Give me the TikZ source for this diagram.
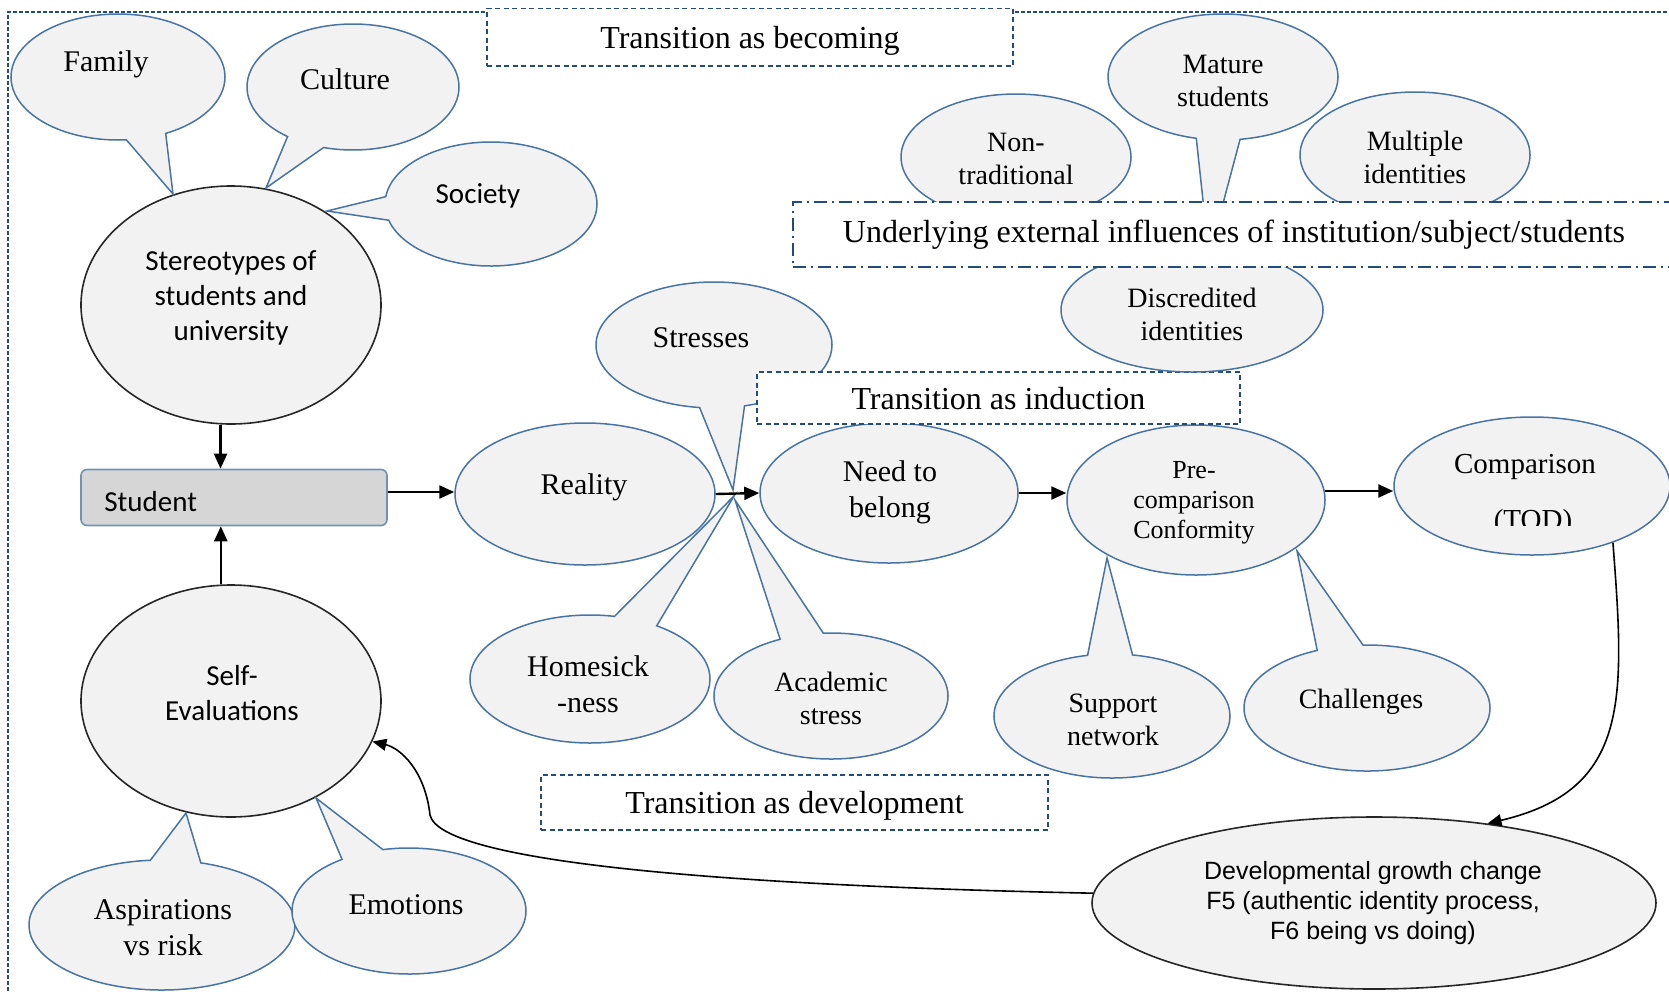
\documentclass[tikz,border=0pt]{standalone}
\usepackage{fontspec}
\setmainfont{Liberation Serif}
\newfontfamily\calib{Carlito}
\newfontfamily\arialf{Liberation Sans}
\usetikzlibrary{shapes.geometric,shapes.callouts,arrows.meta}
\definecolor{cblue}{RGB}{72,116,164}
\definecolor{cfill}{RGB}{242,242,242}
\definecolor{dblue}{RGB}{36,76,120}
\definecolor{sfill}{RGB}{214,214,214}
\definecolor{sline}{RGB}{112,146,182}
\begin{document}
\begin{tikzpicture}[x=0.5pt,y=-0.5pt,
  bubcall/.style={ellipse callout, draw=cblue, fill=cfill, line width=0.75pt, inner sep=0pt, callout pointer arc=22},
  bub/.style={ellipse, draw=cblue, fill=cfill, line width=0.75pt, inner sep=0pt},
  blk/.style={ellipse, draw=black!85, fill=cfill, line width=0.8pt, inner sep=0pt},
  txt/.style={align=center, inner sep=0pt, yshift=-1.5pt, font=\fontsize{15}{18}\selectfont},
  txts/.style={align=center, inner sep=0pt, yshift=-1.5pt, font=\fontsize{14}{16.5}\selectfont},
  sans/.style={align=center, inner sep=0pt, yshift=-1.2pt, font=\calib\fontsize{14.5}{17.5}\selectfont},
  tbox/.style={draw=dblue, fill=white, line width=0.75pt, dash pattern=on 2.5pt off 1.75pt, inner sep=0pt, text depth=0pt, font=\fontsize{16}{19}\selectfont},
  arr/.style={-{Triangle[length=7.5pt,width=6.5pt]}, line width=1.2pt, black},
  curv/.style={-{Triangle[length=7pt,width=6pt]}, line width=0.8pt, black},
]
\useasboundingbox (0,0) rectangle (1669,991);
% outer frame
\draw[dblue, line width=0.8pt, dash pattern=on 2pt off 1pt] (8,991) -- (8,12) -- (1669,12);
\node[tbox, minimum width=263pt, minimum height=28.75pt] (tbecome) at (750,37) {Transition as becoming};

% stereotypes cluster
\node[blk, minimum width=150pt, minimum height=119pt] (stereo) at (231,305) {};
\node[sans] (stereot) at (231,295) {Stereotypes of\\students and\\university};
\node[bubcall, minimum width=107pt, minimum height=63pt, callout absolute pointer={(173,194)}] (fam) at (118,77) {};
\node[txt] (famt) at (106,61) {Family};
\node[bubcall, minimum width=106pt, minimum height=63pt, callout absolute pointer={(266,188)}] (cul) at (353,87) {};
\node[txt] (cult) at (345,76) {Culture};
\node[bubcall, minimum width=106pt, minimum height=62pt, callout absolute pointer={(327,211)}] (soc) at (491,204) {};
\node[sans] (soct) at (478,193) {Society};

% student
\node[draw=sline, fill=sfill, line width=0.8pt, rounded corners=3pt, minimum width=153pt, minimum height=28pt, inner sep=0pt] (student) at (234,497.5) {};
\node[sans, anchor=west] (studentt) at (104,499) {Student};

% self evaluations cluster
\node[blk, minimum width=150pt, minimum height=116pt] (self) at (231,701) {};
\node[sans] (selft) at (232,691) {Self-\\Evaluations};
\node[bubcall, minimum width=133pt, minimum height=65pt, callout absolute pointer={(186,813)}] (asp) at (162,925) {};
\node[txt] (aspt) at (163,925) {Aspirations\\vs risk};
\node[bubcall, minimum width=117pt, minimum height=63pt, callout absolute pointer={(316,798)}] (emo) at (409,911) {};
\node[txt] (emot) at (406,902) {Emotions};

% main chain
\node[bub, minimum width=130pt, minimum height=71pt] (reality) at (585,494) {};
\node[txt] (realityt) at (584,484) {Reality};
\node[bub, minimum width=129pt, minimum height=70pt] (need) at (889,493) {};
\node[txt] (needt) at (890,489) {Need to\\belong};
\node[bub, minimum width=129pt, minimum height=75pt] (pre) at (1196,500) {};
\node[align=center, inner sep=0pt, yshift=-1.5pt, font=\fontsize{13}{15}\selectfont] (pret) at (1194,500) {Pre-\\comparison\\Conformity};
\node[bub, minimum width=138pt, minimum height=69pt] (cmp) at (1532,486) {};
\node[txt, font=\fontsize{14.5}{17}\selectfont] (cmpt) at (1525,464) {Comparison};
\begin{scope}
\clip (1450,440) rectangle (1620,525);
\node[align=center, inner sep=0pt, font=\fontsize{14.5}{17}\selectfont] (tod) at (1533,523) {(TOD)};
\end{scope}

% stresses callouts
\node[bubcall, minimum width=118pt, minimum height=63pt, callout absolute pointer={(733,490)}] (str) at (714,345) {};
\node[txt] (strt) at (701,335) {Stresses};
\node[bubcall, minimum width=120pt, minimum height=64pt, callout absolute pointer={(734,496)}] (home) at (590,679) {};
\node[txt] (homet) at (588,681) {Homesick\\-ness};
\node[bubcall, minimum width=117pt, minimum height=63pt, callout absolute pointer={(735,500)}] (acad) at (831,696) {};
\node[txts] (acadt) at (831,695) {Academic\\stress};
\node[tbox, minimum width=241.5pt, minimum height=26pt] (tinduct) at (998.5,398) {Transition as induction};

% conformity callouts
\node[bubcall, minimum width=118pt, minimum height=62pt, callout absolute pointer={(1107,558)}] (supp) at (1112,716) {};
\node[txts] (suppt) at (1113,717) {Support\\network};
\node[bubcall, minimum width=123pt, minimum height=63pt, callout absolute pointer={(1297,551)}] (chal) at (1367,708) {};
\node[txts] (chalt) at (1361,699) {Challenges};

% underlying influences
\node[bub, minimum width=115pt, minimum height=63pt] (nontr) at (1016,157) {};
\node[txts] (nontrt) at (1016,156) {Non-\\traditional};
\node[bub, minimum width=115pt, minimum height=63pt] (mult) at (1415,155) {};
\node[txts] (multt) at (1415,154) {Multiple\\identities};
\node[bub, minimum width=131pt, minimum height=62pt] (disc) at (1192,310) {};
\node[txts] (disct) at (1192,311) {Discredited\\identities};
\node[bubcall, minimum width=115pt, minimum height=63pt, callout absolute pointer={(1209,256)}] (mat) at (1223,77) {};
\node[txts] (matt) at (1223,78) {Mature\\students};
\node[draw=dblue, fill=white, line width=0.75pt, dash pattern=on 6.5pt off 2.5pt on 1pt off 2.5pt, minimum width=448.5pt, minimum height=32.5pt, inner sep=0pt] (ubox) at (1241.5,234.5) {};
\node[inner sep=0pt, yshift=-1.5pt, font=\fontsize{16}{19}\selectfont] (ut) at (1234,232) {Underlying external influences of institution/subject/students};

% development
\node[tbox, minimum width=253.5pt, minimum height=27.5pt] (tdev) at (794.5,802.5) {Transition as development};
\node[blk, minimum width=282pt, minimum height=86pt] (dev) at (1374,903) {};
\node[align=center, inner sep=0pt, yshift=-1.5pt, font=\arialf\fontsize{12.5}{15}\selectfont] (devt) at (1373,900) {Developmental growth change\\F5 (authentic identity process,\\F6 being vs doing)};

% connectors
\draw[arr] (stereo.265) -- (stereo.265 |- student.north);
\draw[arr] (self.95) -- (self.95 |- student.south);
\draw[arr] ([yshift=2.75pt]student.east) -- ([yshift=2.75pt]student.east -| reality.west);
\draw[arr] (reality.east) -- (need.west);
\draw[arr] (need.east) -- (need.east -| pre.west);
\draw[arr] (pre.4) -- (pre.4 -| cmp.west);
\draw[curv] (cmp.-35) .. controls (1625,700) and (1630,790) .. (dev.35);
\draw[curv] (dev.178) .. controls (700,885) and (440,860) .. (430,815) .. controls (425,770) and (400,748) .. (self.-16);
\end{tikzpicture}
\end{document}
